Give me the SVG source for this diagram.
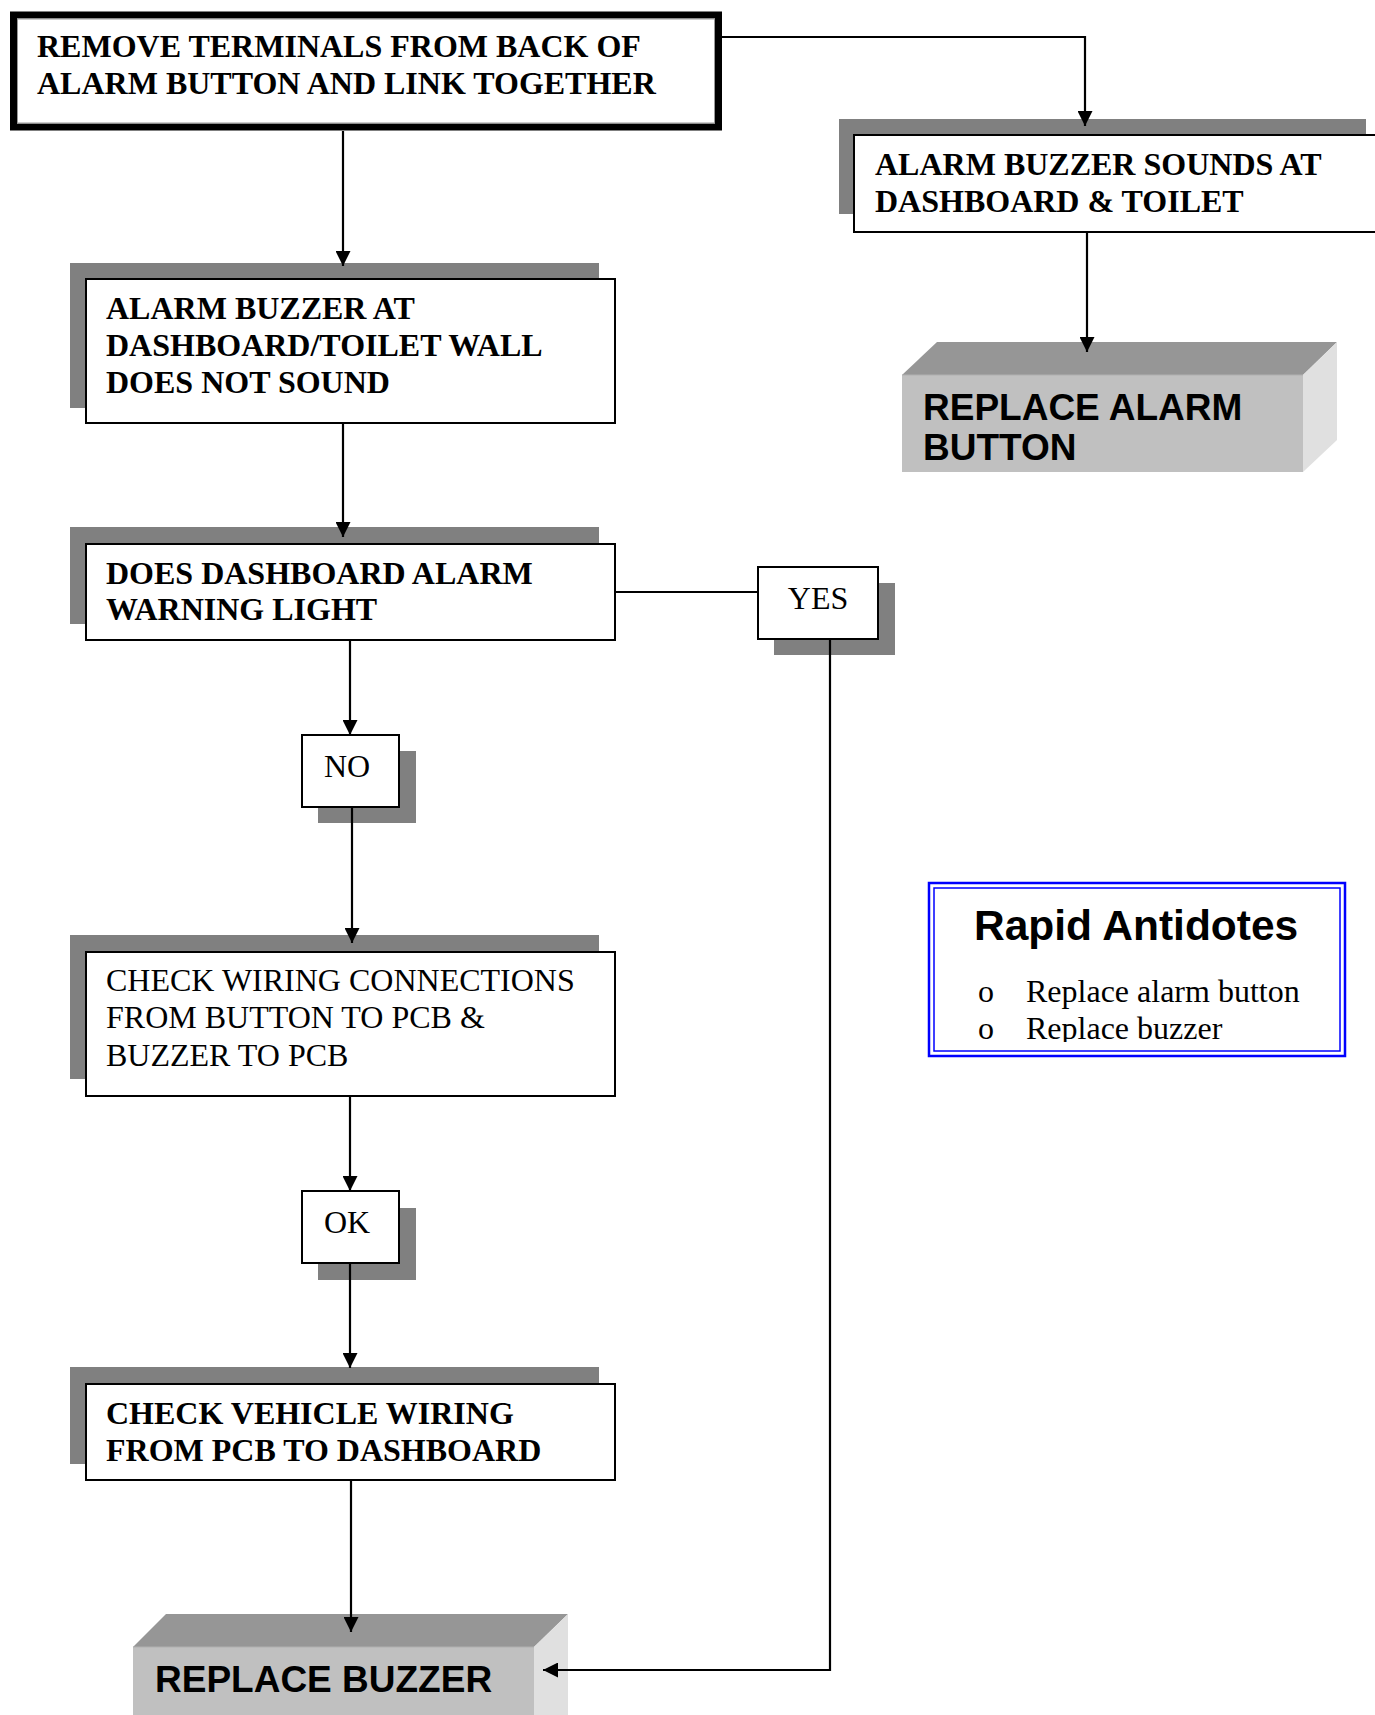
<svg xmlns="http://www.w3.org/2000/svg" width="1375" height="1715" viewBox="0 0 1375 1715">
  <style>
    .box { fill: #ffffff; stroke: #000000; stroke-width: 2; }
    .shadow { fill: #808080; }
    .tb { font-family: "Liberation Serif", "Times New Roman", serif; font-weight: bold; font-size: 32px; fill: #000; }
    .tr { font-family: "Liberation Serif", "Times New Roman", serif; font-size: 32px; fill: #000; }
    .ta { font-family: "Liberation Sans", Arial, sans-serif; font-weight: bold; font-size: 37px; fill: #000; }
    .conn { fill: none; stroke: #000; stroke-width: 2.2; }
    .front { fill: #c0c0c0; }
    .top { fill: #969696; }
    .side { fill: #e0e0e0; }
  </style>
  <defs>
    <marker id="arrow" viewBox="0 0 10 10" refX="10" refY="5" markerWidth="16" markerHeight="15" markerUnits="userSpaceOnUse" orient="auto">
      <path d="M0,0 L10,5 L0,10 z" fill="#000"/>
    </marker>
    <clipPath id="antClip">
      <rect x="930" y="885" width="414" height="157"/>
    </clipPath>
  </defs>
  <rect width="1375" height="1715" fill="#ffffff"/>

  <g id="n-remove">
    <rect x="13.5" y="15" width="705" height="112" fill="#fff" stroke="#000" stroke-width="7"/>
    <rect x="17.5" y="19" width="697" height="104" fill="none" stroke="#999" stroke-width="1"/>
    <text class="tb" x="37" y="57">REMOVE TERMINALS FROM BACK OF</text>
    <text class="tb" x="37" y="94">ALARM BUTTON AND LINK TOGETHER</text>
  </g>

  <g id="n-sounds">
    <rect class="shadow" x="839" y="119" width="527" height="95"/>
    <rect class="box" x="854" y="135" width="530" height="97"/>
    <text class="tb" x="875" y="175">ALARM BUZZER SOUNDS AT</text>
    <text class="tb" x="875" y="212">DASHBOARD &amp; TOILET</text>
  </g>

  <g id="n-replace-button">
    <polygon class="top" points="902,375 937,342 1337,342 1303,375"/>
    <polygon class="side" points="1303,375 1337,342 1337,440 1303,472"/>
    <rect class="front" x="902" y="375" width="401" height="97"/>
    <line x1="902" y1="375" x2="1303" y2="375" stroke="#b0b0b0" stroke-width="1"/>
    <text class="ta" x="923" y="420">REPLACE ALARM</text>
    <text class="ta" x="923" y="460">BUTTON</text>
  </g>

  <g id="n-not-sound">
    <rect class="shadow" x="70" y="263" width="529" height="145"/>
    <rect class="box" x="86" y="279" width="529" height="144"/>
    <text class="tb" x="106" y="319">ALARM BUZZER AT</text>
    <text class="tb" x="106" y="356">DASHBOARD/TOILET WALL</text>
    <text class="tb" x="106" y="393">DOES NOT SOUND</text>
  </g>

  <g id="n-warning">
    <rect class="shadow" x="70" y="527" width="529" height="97"/>
    <rect class="box" x="86" y="544" width="529" height="96"/>
    <text class="tb" x="106" y="584">DOES DASHBOARD ALARM</text>
    <text class="tb" x="106" y="620">WARNING LIGHT</text>
  </g>

  <g id="n-yes">
    <rect class="shadow" x="774" y="583" width="121" height="72"/>
    <rect class="box" x="758" y="567" width="120" height="72"/>
    <text class="tr" x="818" y="609" text-anchor="middle">YES</text>
  </g>

  <g id="n-no">
    <rect class="shadow" x="318" y="751" width="98" height="72"/>
    <rect class="box" x="302" y="735" width="97" height="72"/>
    <text class="tr" x="347" y="777" text-anchor="middle">NO</text>
  </g>

  <g id="n-check-wiring">
    <rect class="shadow" x="70" y="935" width="529" height="144"/>
    <rect class="box" x="86" y="952" width="529" height="144"/>
    <text class="tr" x="106" y="991">CHECK WIRING CONNECTIONS</text>
    <text class="tr" x="106" y="1028">FROM BUTTON TO PCB &amp;</text>
    <text class="tr" x="106" y="1066">BUZZER TO PCB</text>
  </g>

  <g id="n-ok">
    <rect class="shadow" x="318" y="1208" width="98" height="72"/>
    <rect class="box" x="302" y="1191" width="97" height="72"/>
    <text class="tr" x="347" y="1233" text-anchor="middle">OK</text>
  </g>

  <g id="n-vehicle">
    <rect class="shadow" x="70" y="1367" width="529" height="97"/>
    <rect class="box" x="86" y="1384" width="529" height="96"/>
    <text class="tb" x="106" y="1424">CHECK VEHICLE WIRING</text>
    <text class="tb" x="106" y="1461">FROM PCB TO DASHBOARD</text>
  </g>

  <g id="n-replace-buzzer">
    <polygon class="top" points="133,1647 166,1614 568,1614 534,1647"/>
    <polygon class="side" points="534,1647 568,1614 568,1715 534,1715"/>
    <rect class="front" x="133" y="1647" width="401" height="70"/>
    <line x1="133" y1="1647" x2="534" y2="1647" stroke="#b0b0b0" stroke-width="1"/>
    <text class="ta" x="155" y="1692">REPLACE BUZZER</text>
  </g>

  <g id="n-antidotes">
    <rect x="929" y="883" width="416" height="173" fill="#fff" stroke="#0000ff" stroke-width="2.5"/>
    <rect x="934" y="888" width="406" height="163" fill="none" stroke="#0000ff" stroke-width="1.5"/>
    <g clip-path="url(#antClip)">
      <text x="974" y="940" font-family="&quot;Liberation Sans&quot;, Arial, sans-serif" font-weight="bold" font-size="42.5" fill="#000">Rapid Antidotes</text>
      <text class="tr" x="978" y="1002">o</text>
      <text class="tr" x="1026" y="1002">Replace alarm button</text>
      <text class="tr" x="978" y="1039">o</text>
      <text class="tr" x="1026" y="1039">Replace buzzer</text>
    </g>
  </g>

  <g id="connectors">
    <polyline class="conn" points="722,37 1085,37 1085,126" marker-end="url(#arrow)"/>
    <line class="conn" x1="1087" y1="232" x2="1087" y2="352" marker-end="url(#arrow)"/>
    <line class="conn" x1="343" y1="131" x2="343" y2="266" marker-end="url(#arrow)"/>
    <line class="conn" x1="343" y1="423" x2="343" y2="537" marker-end="url(#arrow)"/>
    <line class="conn" x1="615" y1="592" x2="758" y2="592"/>
    <line class="conn" x1="350" y1="640" x2="350" y2="735" marker-end="url(#arrow)"/>
    <line class="conn" x1="352" y1="807" x2="352" y2="943" marker-end="url(#arrow)"/>
    <line class="conn" x1="350" y1="1096" x2="350" y2="1191" marker-end="url(#arrow)"/>
    <line class="conn" x1="350" y1="1263" x2="350" y2="1368" marker-end="url(#arrow)"/>
    <line class="conn" x1="351" y1="1480" x2="351" y2="1632" marker-end="url(#arrow)"/>
    <polyline class="conn" points="830,639 830,1670 543,1670" marker-end="url(#arrow)"/>
  </g>
</svg>
